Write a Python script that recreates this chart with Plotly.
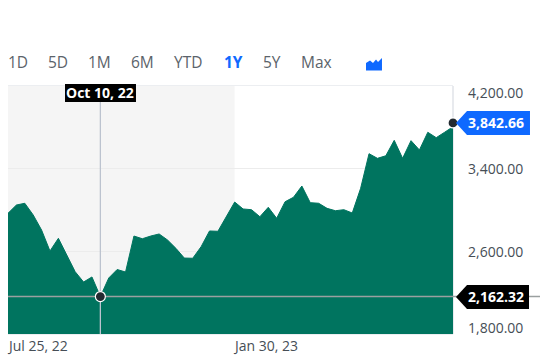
import plotly.graph_objects as go
import pandas as pd

start_date = "2022-07-25"
band_end_date = "2023-01-30"
cross_date = "2022-10-10"
close_values = [2968, 3048, 3065, 2952, 2806, 2603, 2726, 2564, 2403, 2303, 2352, 2162.32, 2342, 2424,
                2400, 2748, 2722, 2748, 2768, 2710, 2629, 2535, 2533, 2645, 2797, 2794, 2942, 3077,
                3010, 3003, 2935, 3026, 2920, 3080, 3123, 3232, 3071, 3065, 3016, 2993, 3003, 2971,
                3210, 3545, 3500, 3525, 3674, 3500, 3671, 3581, 3752, 3700, 3752, 3806]
last_price = 3842.66
cross_price = 2162.32
y_ticks = [4200, 3400, 2600, 1800]
x_ticks = ["2022-07-25", "2023-01-30"]
x_tick_labels = ["Jul 25, 22", "Jan 30, 23"]
range_buttons = ["1D", "5D", "1M", "6M", "YTD", "1Y", "5Y", "Max"]
active_button = "1Y"

dates = pd.date_range(start_date, periods=len(close_values), freq="7D")

W, H = 540, 359
L, R, T, B = 8, 453, 86, 334
FONT = "Open Sans"
GREEN = "#00745f"
TEXT = "#464e56"


def px(x):
    return (x - L) / (R - L)


def py(y):
    return (B - y) / (B - T)


def path(points):
    return "M " + " L ".join(f"{px(x):.4f} {py(y):.4f}" for x, y in points) + " Z"


fig = go.Figure()
fig.add_trace(go.Scatter(x=dates, y=close_values, mode="lines", fill="tozeroy",
                         fillcolor=GREEN, line=dict(color=GREEN, width=1),
                         hoverinfo="skip", showlegend=False))
fig.add_trace(go.Scatter(x=[cross_date, cross_date], y=[1800, 4200], mode="lines",
                         line=dict(color="#bcc3cf", width=1.3), hoverinfo="skip", showlegend=False))
fig.add_trace(go.Scatter(x=[dates[0], dates[-1]], y=[cross_price, cross_price], mode="lines",
                         line=dict(color="#9aa0a0", width=1.5), hoverinfo="skip", showlegend=False))
fig.add_trace(go.Scatter(x=[cross_date, dates[-1]], y=[cross_price, last_price], mode="markers",
                         marker=dict(color="#232a31", size=10, line=dict(color="white", width=1.2)),
                         cliponaxis=False, hoverinfo="skip", showlegend=False))

shapes = [
    dict(type="rect", xref="x", yref="paper", x0=start_date, x1=band_end_date, y0=0, y1=1,
         fillcolor="rgba(0,0,0,0.04)", line_width=0, layer="below"),
    dict(type="line", xref="paper", yref="paper", x0=1, x1=1, y0=0, y1=1,
         line=dict(color="#e0e3e8", width=1.5), layer="below"),
    dict(type="line", xref="paper", yref="y", x0=1, x1=px(W), y0=cross_price, y1=cross_price,
         line=dict(color="#9aa0a0", width=1.5), layer="below"),
    dict(type="path", xref="paper", yref="paper", line_width=0, fillcolor="#0f69ff",
         path=path([(456, 123), (467, 111), (530, 111), (530, 135), (467, 135)])),
    dict(type="path", xref="paper", yref="paper", line_width=0, fillcolor="#000000",
         path=path([(456, 297), (467, 285), (529, 285), (529, 309), (467, 309)])),
    dict(type="path", xref="paper", yref="paper", line_width=0, fillcolor="#000000",
         path=path([(65, 84), (136, 84), (136, 102), (65, 102)])),
    dict(type="path", xref="paper", yref="paper", line_width=0, fillcolor="#0f69ff",
         path=path([(366, 70.5), (366, 63), (370, 60.5), (373, 63), (376, 59.5), (378, 62),
                    (382, 58), (382, 70.5)])),
]

annotations = []
for label, x in zip(range_buttons, [6, 46, 86, 129, 172, 222, 261, 299]):
    on = label == active_button
    annotations.append(dict(text=f"<b>{label}</b>" if on else label, xref="paper", yref="paper",
                            x=px(x), y=py(62), xanchor="left", yanchor="middle", showarrow=False,
                            font=dict(family=FONT, size=15.5, color="#0f69ff" if on else "#5b636a")))
for tick, shift in zip(y_ticks, [-6.5, 0, 0, 7]):
    annotations.append(dict(text=f"{tick:,.2f}", xref="paper", yref="y", x=px(465.5), y=tick,
                            yshift=shift, xanchor="left", yanchor="middle",
                            showarrow=False, font=dict(family=FONT, size=14, color=TEXT)))
for tick, label in zip(x_ticks, x_tick_labels):
    annotations.append(dict(text=label, xref="x", yref="paper", x=tick, y=py(345.5), xshift=-3.5,
                            xanchor="left", yanchor="middle", showarrow=False,
                            font=dict(family=FONT, size=14, color=TEXT)))
annotations.append(dict(text=f"<b>{last_price:,.2f}</b>", xref="paper", yref="y", x=px(465.5), y=last_price,
                        xanchor="left", yanchor="middle", showarrow=False,
                        font=dict(family=FONT, size=14, color="white")))
annotations.append(dict(text=f"<b>{cross_price:,.2f}</b>", xref="paper", yref="y", x=px(465.5), y=cross_price,
                        xanchor="left", yanchor="middle", showarrow=False,
                        font=dict(family=FONT, size=14, color="white")))
annotations.append(dict(text="<b>Oct 10, 22</b>", xref="x", yref="paper", x=cross_date, y=py(92.5),
                        xanchor="center", yanchor="middle", showarrow=False,
                        font=dict(family=FONT, size=14, color="white")))

fig.update_layout(
    width=W, height=H, margin=dict(l=L, r=W - R, t=T, b=H - B), autosize=False,
    paper_bgcolor="white", plot_bgcolor="white", showlegend=False,
    xaxis=dict(type="date", range=[start_date, dates[-1]], showgrid=False, zeroline=False,
               showticklabels=False, showline=True, linecolor="#eceef1", linewidth=1, ticks="",
               mirror=True, tickvals=x_ticks),
    yaxis=dict(range=[1800, 4200], tickvals=y_ticks, showticklabels=False, showgrid=True,
               gridcolor="#ececec", gridwidth=1, zeroline=False, ticks=""),
    shapes=shapes, annotations=annotations,
)
fig.write_html("out.html", post_script="document.body.style.margin='0';", config=dict(displayModeBar=False))
